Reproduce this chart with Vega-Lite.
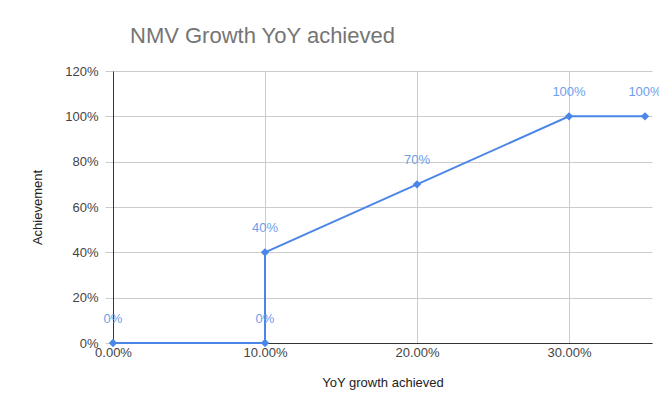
{
  "$schema": "https://vega.github.io/schema/vega-lite/v6.json",
  "width": 539,
  "height": 272,
  "autosize": "none",
  "padding": {"left": 113, "top": 71, "right": 7, "bottom": 71},
  "background": "white",
  "config": {
    "font": "Liberation Sans",
    "view": {"stroke": null}
  },
  "title": {
    "text": "NMV Growth YoY achieved",
    "anchor": "start",
    "frame": "group",
    "dx": 17,
    "offset": 17,
    "fontSize": 22,
    "fontWeight": "normal",
    "color": "#757575",
    "font": "Liberation Sans"
  },
  "data": {
    "values": [
      {"order": 1, "growth": 0.0, "achievement": 0.0, "label": "0%"},
      {"order": 2, "growth": 0.1, "achievement": 0.0, "label": "0%"},
      {"order": 3, "growth": 0.1, "achievement": 0.4, "label": "40%"},
      {"order": 4, "growth": 0.2, "achievement": 0.7, "label": "70%"},
      {"order": 5, "growth": 0.3, "achievement": 1.0, "label": "100%"},
      {"order": 6, "growth": 0.35, "achievement": 1.0, "label": "100%"}
    ]
  },
  "encoding": {
    "x": {
      "field": "growth",
      "type": "quantitative",
      "scale": {"domain": [0, 0.3546], "nice": false, "zero": false},
      "axis": {
        "title": "YoY growth achieved",
        "values": [0, 0.1, 0.2, 0.3],
        "format": ".2%",
        "labelFontSize": 13,
        "labelColor": "#444444",
        "labelPadding": 3,
        "labelFlush": false,
        "ticks": false,
        "grid": true,
        "gridColor": "#cccccc",
        "domainColor": "#333333",
        "domainWidth": 1,
        "titleFontSize": 13,
        "titleFontWeight": "normal",
        "titleColor": "#222222",
        "titlePadding": 17
      }
    },
    "y": {
      "field": "achievement",
      "type": "quantitative",
      "scale": {"domain": [0, 1.2], "nice": false},
      "axis": {
        "title": "Achievement",
        "values": [0, 0.2, 0.4, 0.6, 0.8, 1.0, 1.2],
        "format": ".0%",
        "labelFontSize": 13,
        "labelColor": "#444444",
        "labelPadding": 7,
        "labelFlush": false,
        "ticks": true,
        "tickSize": 8,
        "tickColor": "#cccccc",
        "grid": true,
        "gridColor": "#cccccc",
        "domainColor": "#333333",
        "titleFontSize": 13,
        "titleFontWeight": "normal",
        "titleColor": "#222222",
        "titlePadding": 20
      }
    },
    "order": {"field": "order", "type": "quantitative"}
  },
  "layer": [
    {
      "mark": {"type": "line", "color": "#4a86e8", "strokeWidth": 2, "clip": false}
    },
    {
      "mark": {"type": "point", "shape": "diamond", "filled": true, "color": "#4a86e8", "size": 70, "opacity": 1, "clip": false}
    },
    {
      "mark": {"type": "text", "dy": -24, "fontSize": 13, "color": "#6d9eeb", "font": "Liberation Sans"},
      "encoding": {"text": {"field": "label"}}
    }
  ]
}
